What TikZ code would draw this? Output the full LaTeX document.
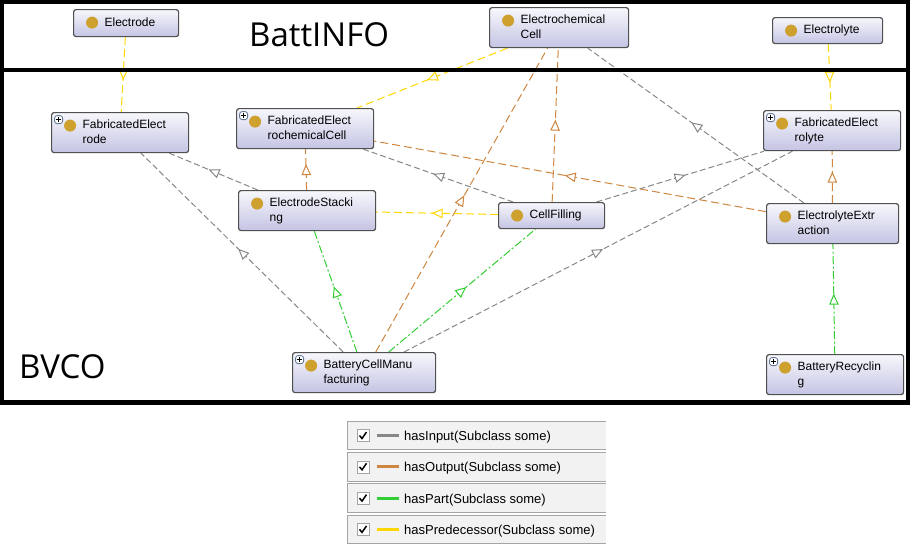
\documentclass[tikz,border=0pt]{standalone}
\usepackage{fontspec}
\setmainfont{Liberation Sans}
\newfontfamily\headfont{Open Sans}
\usetikzlibrary{arrows.meta,decorations.markings,backgrounds}

\definecolor{clsline}{RGB}{80,80,80}
\definecolor{clstop}{RGB}{247,247,252}
\definecolor{clsbot}{RGB}{196,196,228}
\definecolor{clsdot}{RGB}{206,160,46}
\definecolor{plusline}{RGB}{100,120,150}
\definecolor{inputc}{RGB}{135,135,135}
\definecolor{outputc}{RGB}{205,133,63}
\definecolor{partc}{RGB}{50,205,50}
\definecolor{predc}{RGB}{255,215,0}
\definecolor{legbg}{RGB}{242,242,242}
\definecolor{legline}{RGB}{165,165,165}

% class box text: 31pt left gap for the dot
\newcommand\clstext[2]{\makebox[#1][l]{\hspace{31pt}\begin{tabular}{@{}l@{}}#2\end{tabular}}}
\newcommand\clsdot{\fill[clsdot] ([shift={(18.5,13)}]path picture bounding box.north west) circle (6pt);}
\newcommand\clsplus{%
  \draw[plusline, fill=white, line width=0.8pt] ([shift={(3,3)}]path picture bounding box.north west) rectangle +(8,8);
  \draw[black, line width=1pt] ([shift={(4.6,7)}]path picture bounding box.north west) -- +(4.8,0)
    ([shift={(7,4.6)}]path picture bounding box.north west) -- +(0,4.8);}

\begin{document}
\begin{tikzpicture}[x=1pt,y=-1pt]
    \tikzstyle{ontoframe}=[line width=4.5pt]
    \tikzstyle{head}=[font=\headfont\fontsize{33}{40}\selectfont, inner sep=0pt, anchor=base west]
    \tikzstyle{cls}=[draw=clsline, line width=1.2pt, rounded corners=2.5pt, top color=clstop, bottom color=clsbot,
        inner sep=0pt, minimum height=27pt, anchor=north west, font=\fontsize{12}{15}\selectfont, path picture={\clsdot}]
    \tikzstyle{clsexp}=[cls, path picture={\clsdot\clsplus}]
    \tikzstyle{twoline}=[minimum height=40pt]
    \tikzstyle{rel}=[line width=1pt, postaction={decorate}, decoration={markings, mark=at position 0.5 with
        {\arrow[solid,xshift=5.5pt]{Triangle[open,fill=white,length=11pt,width=9.5pt]}}}]
    \tikzstyle{hasinput}=[rel, draw=inputc, dash pattern=on 6pt off 3pt]
    \tikzstyle{hasoutput}=[rel, draw=outputc, dash pattern=on 8pt off 4pt]
    \tikzstyle{haspart}=[rel, draw=partc, dash pattern=on 8pt off 2.5pt on 2pt off 2.5pt]
    \tikzstyle{haspred}=[rel, draw=predc, dash pattern=on 8pt off 4pt]
    \tikzstyle{legtext}=[font=\fontsize{13}{15}\selectfont, inner sep=0pt, anchor=base west]

    \useasboundingbox (0,0) rectangle (912,555);

    % BattINFO and BVCO frames
    \draw[ontoframe] (2,2) rectangle (908,70);
    \draw[ontoframe] (2,70) rectangle (908,402.5);
    \node[head] (battinfo) at (249,46) {BattINFO};
    \node[head] (bvco) at (19,378) {BVCO};

    % BattINFO classes
    \node[cls] (el) at (73,9) {\clstext{105pt}{Electrode}};
    \node[cls, twoline] (ec) at (489,7) {\clstext{139pt}{Electrochemical\\Cell}};
    \node[cls, minimum height=26pt] (ely) at (772,17) {\clstext{110pt}{Electrolyte}};

    % BVCO classes
    \node[clsexp, twoline] (fe) at (51,112) {\clstext{137pt}{FabricatedElect\\rode}};
    \node[clsexp, twoline] (fec) at (236,108) {\clstext{137pt}{FabricatedElect\\rochemicalCell}};
    \node[cls, twoline] (es) at (238,190) {\clstext{137pt}{ElectrodeStacki\\ng}};
    \node[cls, minimum height=26pt] (cf) at (498,202) {\clstext{106pt}{CellFilling}};
    \node[clsexp, twoline] (fely) at (763,110) {\clstext{137pt}{FabricatedElect\\rolyte}};
    \node[cls, twoline] (ee) at (766,203) {\clstext{132pt}{ElectrolyteExtr\\action}};
    \node[clsexp, twoline] (bcm) at (292,352) {\clstext{143pt}{BatteryCellManu\\facturing}};
    \node[clsexp, twoline] (br) at (766,354) {\clstext{137pt}{BatteryRecyclin\\g}};

    % relations, behind the boxes and frames
    \begin{scope}[on background layer]
        \foreach \src/\dst in {es/fe, bcm/fe, cf/fec, ee/ec, cf/fely, bcm/fely}
            \draw[hasinput] (\src) -- (\dst);
        \foreach \src/\dst in {es/fec, bcm/ec, cf/ec, ee/fec, ee/fely}
            \draw[hasoutput] (\src) -- (\dst);
        \foreach \src/\dst in {bcm/es, bcm/cf, br/ee}
            \draw[haspart] (\src) -- (\dst);
        \foreach \src/\dst in {el/fe, ec/fec, ely/fely, cf/es}
            \draw[haspred] (\src) -- (\dst);
    \end{scope}

    % legend
    \foreach \i/\relname/\col in {0/hasInput/inputc, 1/hasOutput/outputc, 2/hasPart/partc, 3/hasPredecessor/predc} {
        \pgfmathsetmacro\rowy{421+31.3*\i}
        \fill[legbg] (347,\rowy) rectangle (606,\rowy+28.5);
        \draw[legline] (606,\rowy) -- (347,\rowy) -- (347,\rowy+28.5) -- (606,\rowy+28.5);
        \draw[legline, fill=white] (357,\rowy+8.5) rectangle +(12,12);
        \draw[line width=1.5pt] (359.5,\rowy+14.5) -- (362,\rowy+17.5) -- (366.5,\rowy+11);
        \draw[\col, line width=3pt] (377,\rowy+14.5) -- (399,\rowy+14.5);
        \node[legtext] (leg-\i) at (404,\rowy+19.5) {\relname(Subclass some)};
    }
\end{tikzpicture}
\end{document}
